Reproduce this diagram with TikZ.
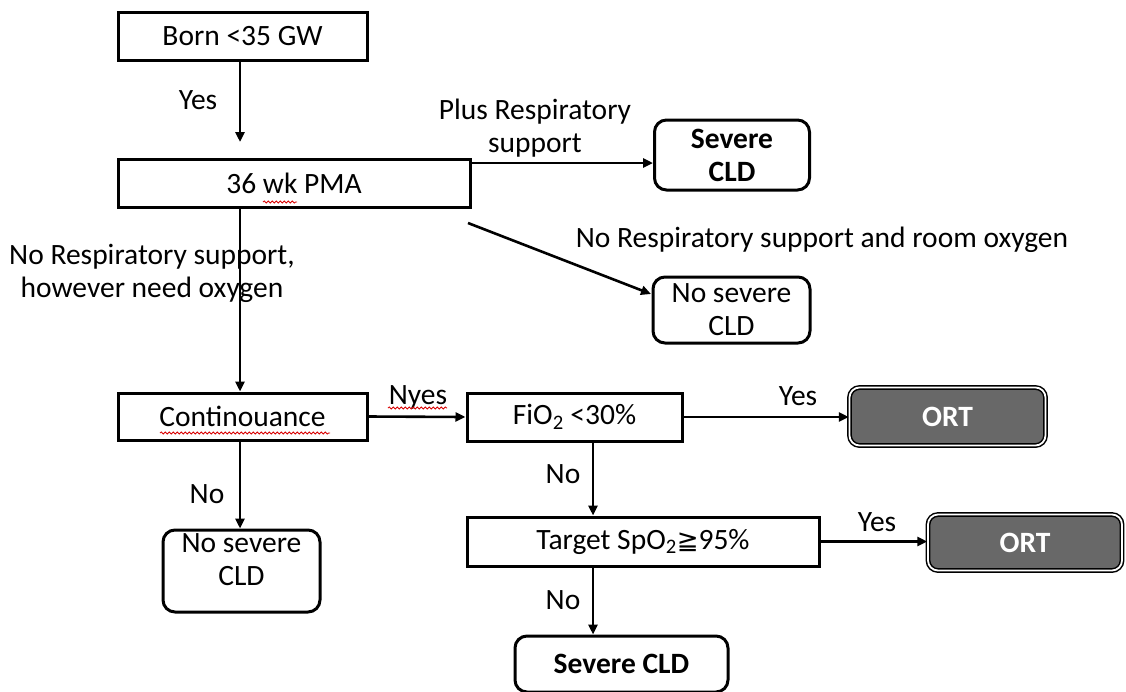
\documentclass[tikz,border=0pt]{standalone}
\usepackage{fontspec}
\setmainfont{Carlito}
\newfontfamily\symfont{DejaVu Sans}
\usetikzlibrary{arrows.meta,calc,decorations.pathmorphing}
\begin{document}
\begin{tikzpicture}[x=1pt,y=-1pt,
  every node/.style={font=\fontsize{29.5}{33}\selectfont, inner sep=0pt, align=center},
  sqbox/.style={draw=black, line width=3pt, fill=white, rectangle},
  rbox/.style={draw=black, line width=3pt, fill=white, rectangle, rounded corners=12pt},
  ortbox/.style={draw=black, line width=1.5pt, double=white, double distance=1.8pt,
    fill=ortgray, rounded corners=10pt, text=white, font=\fontsize{29.5}{33}\selectfont\bfseries},
  conn/.style={line width=2.6pt, -{Triangle[length=10pt,width=9pt]}},
  lbl/.style={text=black},
  spell/.style={draw=red!85!black, line width=0.8pt, decorate,
    decoration={snake, segment length=4pt, amplitude=1.1pt}}
]
\definecolor{ortgray}{RGB}{104,104,104}
\useasboundingbox (0,0) rectangle (1126,691);

% boxes
\node[sqbox, minimum width=249, minimum height=48] (born) at (242.5,36) {\raisebox{-3pt}{Born <35 GW}};
\node[sqbox, minimum width=352, minimum height=48] (pma) at (294,183) {\raisebox{-3pt}{36 wk PMA}};
\node[rbox, minimum width=155, minimum height=70, font=\fontsize{29.5}{33}\selectfont\bfseries] (sev1) at (732,155) {Severe\\CLD};
\node[rbox, minimum width=157, minimum height=66] (nosev1) at (731.5,310) {No severe\\CLD};
\node[sqbox, minimum width=249, minimum height=47] (cont) at (242.5,416.5) {\raisebox{-2pt}{Continouance}};
\node[rbox, minimum width=157, minimum height=82] (nosev2) at (241.5,571) {};
\node[lbl] (nosev2txt) at ($(nosev2.center)+(0,-11)$) {No severe\\CLD};
\node[sqbox, minimum width=215, minimum height=48] (fio) at (574.5,417) {FiO\textsubscript{2} <30\%};
\node[ortbox, minimum width=196, minimum height=58] (ort1) at (947.5,416.5) {ORT};
\node[sqbox, minimum width=352, minimum height=49] (tgt) at (643,541.5) {Target SpO\textsubscript{2}{\symfont\fontsize{26}{30}\selectfont ≧}95\%};
\node[ortbox, minimum width=194, minimum height=56] (ort2) at (1025,542.5) {ORT};
\node[rbox, minimum width=213, minimum height=56, font=\fontsize{29.5}{33}\selectfont\bfseries] (sev2) at (621.5,664) {Severe CLD};

% helper coordinates
\coordinate (c1) at (240,0);
\coordinate (c2) at (593,0);
\coordinate (bornend) at (240,142);
\coordinate (pmaout) at (470,163);
\coordinate (diagstart) at (468,223);
\coordinate (diagend) at (651,294);

% connectors
\draw[conn] (born.south -| c1) -- (bornend);
\draw[conn] (pmaout) -- (pmaout -| sev1.west);
\draw[conn] (diagstart) -- (diagend);
\draw[conn] (pma.south -| c1) -- (cont.north -| c1);
\draw[conn] (cont.east) -- (fio.west);
\draw[conn] (cont.south -| c1) -- (nosev2.north -| c1);
\draw[conn] (fio.east) -- (fio.east -| ort1.west);
\draw[conn] (fio.south -| c2) -- (tgt.north -| c2);
\draw[conn] (tgt.east) -- (tgt.east -| ort2.west);
\draw[conn] (tgt.south -| c2) -- (sev2.north -| c2);

% labels
\node[lbl] (l1) at (198,100) {Yes};
\node[lbl] (l2) at (535,128) {Plus Respiratory\\support};
\node[lbl] (l3) at (822,240) {No Respiratory support and room oxygen};
\node[lbl] (l4) at (152,273) {No Respiratory support,\\however need oxygen};
\node[lbl] (l5) at (418,397) {Nyes};
\node[lbl] (l6) at (207,494) {No};
\node[lbl] (l7) at (798,396) {Yes};
\node[lbl] (l8) at (563,474) {No};
\node[lbl] (l9) at (877,522) {Yes};
\node[lbl] (l10) at (563,600) {No};

% spell-check marks
\draw[spell] (263,202) -- (297,202);
\draw[spell] (160,433) -- (330,433);
\draw[spell] (388,408) -- (447,408);
\end{tikzpicture}
\end{document}
